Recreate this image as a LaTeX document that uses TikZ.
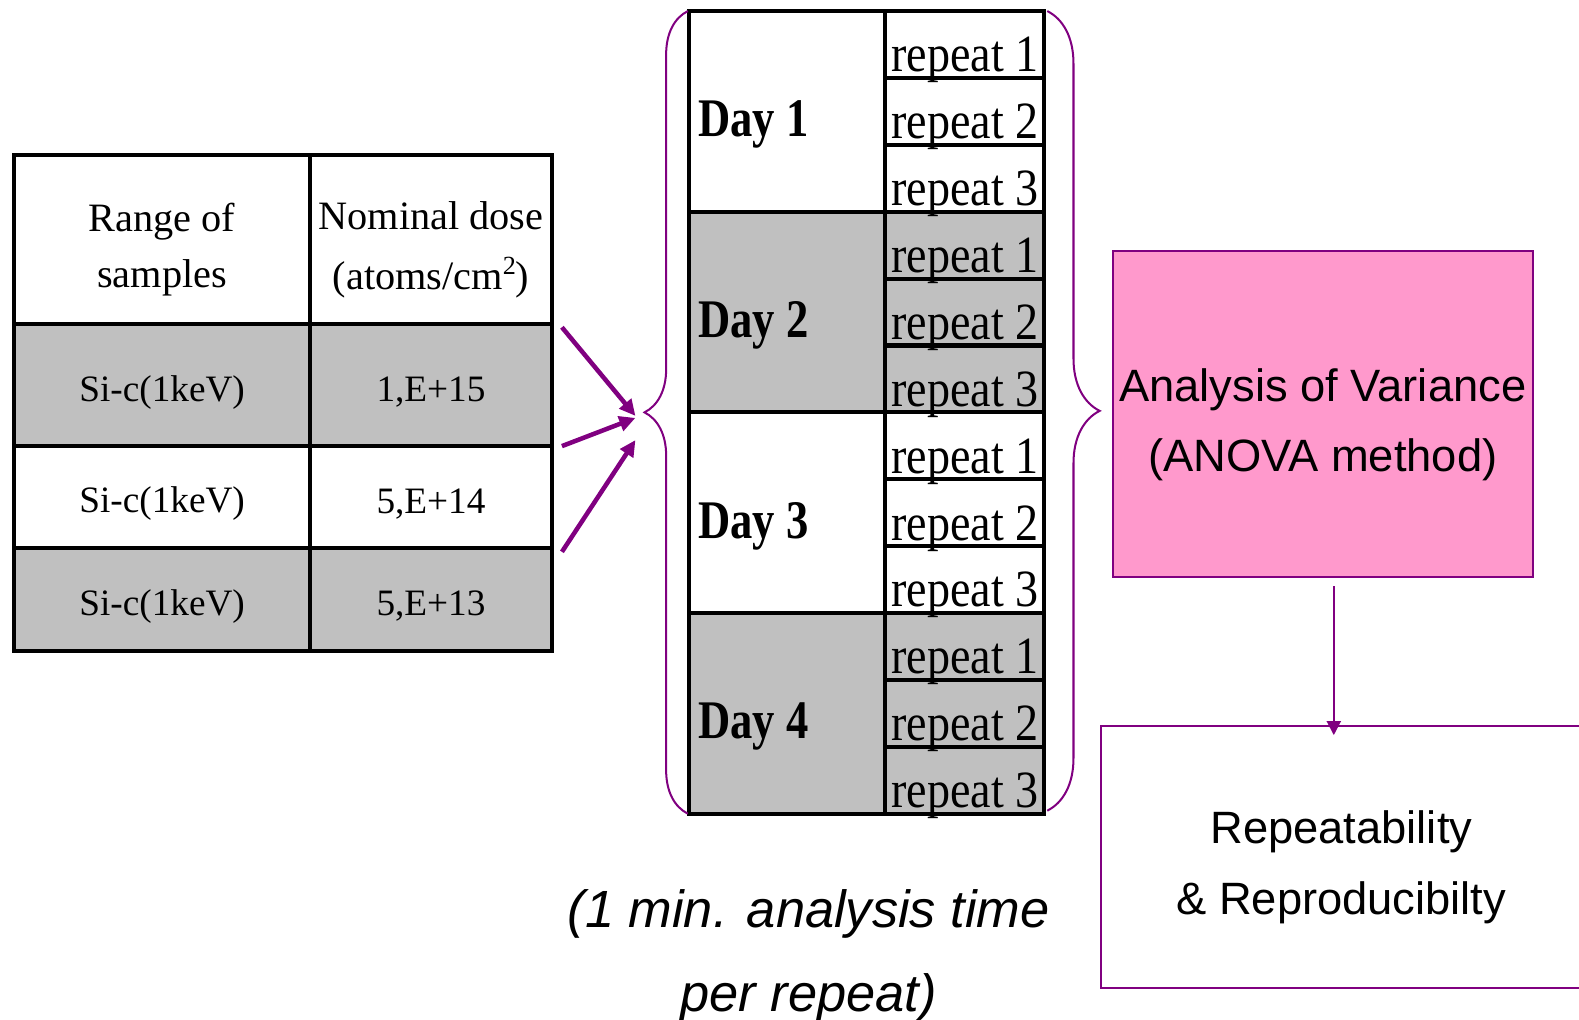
\documentclass[tikz,border=0pt]{standalone}
\usepackage{fontspec}
\setmainfont{Liberation Serif}
\setsansfont{Liberation Sans}
\usepackage{graphicx}
\usetikzlibrary{arrows.meta, positioning, decorations.pathreplacing}
\definecolor{morado}{HTML}{800080}
\definecolor{gris}{HTML}{C0C0C0}
\definecolor{rosa}{HTML}{FF99CC}
\newcommand{\estrecho}[2]{\scalebox{#1}[1]{#2}}
\newcommand{\cuadrado}{\raisebox{15pt}{\fontsize{26}{26}\selectfont 2}}
\tikzset{
  celda/.style={rectangle, draw=black, line width=4pt, outer sep=0pt,
    inner sep=0pt},
  cabecera/.style={inner sep=0pt, align=center, font=\fontsize{40}{56}\selectfont},
  dato/.style={inner sep=0pt, font=\fontsize{37}{44}\selectfont},
  dia/.style={celda, minimum width=195, minimum height=199.25},
  rep/.style={celda, minimum width=158, minimum height=66.42},
  textodia/.style={inner sep=0pt, anchor=base west,
    font=\fontsize{54}{60}\selectfont\bfseries},
  textorep/.style={inner sep=0pt, anchor=base west,
    font=\fontsize{52}{60}\selectfont},
  caja/.style={rectangle, draw=morado, line width=2pt, outer sep=0pt},
  textocaja/.style={inner sep=0pt, align=center,
    font=\sffamily\fontsize{45}{70}\selectfont},
  llave/.style={decorate, draw=morado, line width=2pt},
  flecha/.style={-{Triangle[length=16pt,width=15pt]}, line width=4.5pt, morado},
  flechafina/.style={-{Triangle[length=14pt,width=14pt]}, line width=2pt, morado}
}
\begin{document}
\begin{tikzpicture}[x=1pt, y=-1pt]
  \useasboundingbox (0,0) rectangle (1568,1012);
  \clip (0,0) rectangle (1568,1012);

  % --- Tabla de muestras ---
  \node[celda, minimum width=294, minimum height=168, anchor=north west]
    (rango) at (14,154) {};
  \node[celda, minimum width=240, minimum height=168, right=0pt of rango] (dosis) {};
  \node[celda, fill=gris, minimum width=294, minimum height=121, below=0pt of rango]
    (muestra1) {};
  \node[celda, fill=gris, minimum width=240, minimum height=121, right=0pt of muestra1]
    (dosis1) {};
  \node[celda, minimum width=294, minimum height=101, below=0pt of muestra1]
    (muestra2) {};
  \node[celda, minimum width=240, minimum height=101, right=0pt of muestra2]
    (dosis2) {};
  \node[celda, fill=gris, minimum width=294, minimum height=102, below=0pt of muestra2]
    (muestra3) {};
  \node[celda, fill=gris, minimum width=240, minimum height=102, right=0pt of muestra3]
    (dosis3) {};

  \node[cabecera] (trango) at ([yshift=-10pt]rango.center) {Range of\\samples};
  \node[cabecera] (tdosis) at ([yshift=-10pt]dosis.center)
    {Nominal dose\\[4pt](atoms/cm\cuadrado)};
  \foreach \m/\v in {1/{1,E+15},2/{5,E+14},3/{5,E+13}} {
    \node[dato] (tmuestra\m) at ([yshift=-7pt]muestra\m.center) {Si-c(1keV)};
    \node[dato] (tdosis\m) at ([yshift=-7pt]dosis\m.center) {\v};
  }

  % --- Dias y repeticiones ---
  \foreach \d/\tono in {1/white,2/gris,3/white,4/gris} {
    \node[dia, fill=\tono, anchor=north west] (dia\d) at (684,{11+199.25*(\d-1)}) {};
    \foreach \r in {1,2,3}
      \node[rep, fill=\tono, anchor=north west] (rep\d\r)
        at ([yshift={-66.42*(\r-1)}]dia\d.north east) {};
  }
  \foreach \d in {1,...,4} {
    \node[textodia] (tdia\d) at ([xshift=9pt,yshift=-125pt]dia\d.north west)
      {\estrecho{0.82}{Day \d}};
    \foreach \r in {1,2,3}
      \node[textorep] (trep\d\r) at ([xshift=6pt,yshift=6pt]rep\d\r.south west)
        {\estrecho{0.88}{repeat \r}};
  }

  % --- Llaves ---
  \draw[llave, decoration={brace, amplitude=43pt}]
    ([xshift=-1pt]dia4.south west) -- ([xshift=-1pt]dia1.north west);
  \draw[llave, decoration={brace, amplitude=52pt}]
    ([xshift=3pt]rep11.north east) -- ([xshift=3pt,yshift=3pt]rep43.south east);

  % --- Flechas de entrada ---
  \coordinate (junta) at (631,413);
  \draw[flecha] ([xshift=10pt,yshift=-3pt]dosis1.north east) -- (junta);
  \draw[flecha] ([xshift=10pt]dosis1.south east) -- ([yshift=-2pt]junta);
  \draw[flecha] ([xshift=10pt,yshift=-4pt]dosis3.north east) -- ([yshift=-24pt]junta);

  \node[font=\sffamily\itshape\fontsize{52}{83}\selectfont, align=center]
    (nota) at (803,949) {(1 min. analysis time\\per repeat)};

  % --- Analisis ---
  \node[caja, fill=rosa, minimum width=417, minimum height=324, anchor=north west]
    (anova) at (1105,249) {};
  \node[textocaja] (tanova) at ([yshift=-11pt]anova.center)
    {Analysis of Variance\\(ANOVA method)};
  \node[caja, minimum width=500, minimum height=260, anchor=north west]
    (resultado) at (1093,721) {};
  \node[textocaja] (tresultado) at ([xshift=-11pt,yshift=-10pt]resultado.center)
    {Repeatability\\\& Reproducibilty};

  \draw[flechafina] ([xshift=11pt,yshift=-9pt]anova.south)
    -- ([xshift=11pt,yshift=-9pt]anova.south |- resultado.north);

\end{tikzpicture}
\end{document}
